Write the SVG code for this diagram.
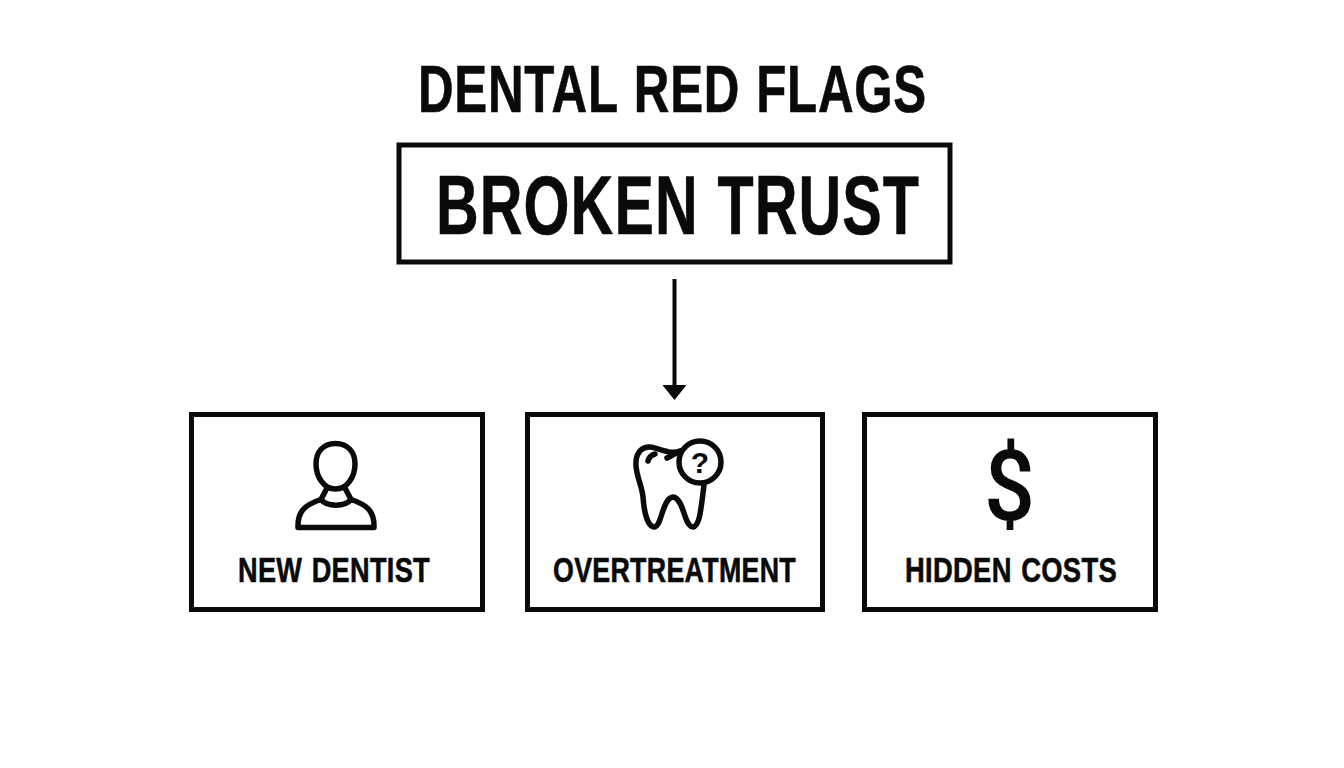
<svg xmlns="http://www.w3.org/2000/svg" width="1344" height="768" viewBox="0 0 1344 768">
<style>
.box{fill:#fff;stroke:#0a0a0a;stroke-width:5}
.t{font-family:"Liberation Sans",Arial,sans-serif;font-weight:700;fill:#0a0a0a;stroke:#0a0a0a;stroke-width:.6px;text-anchor:start}
.lbl{font-size:35px;letter-spacing:.4px;word-spacing:2px}
.ic{fill:none;stroke:#0a0a0a;stroke-width:5.500;stroke-linecap:round;stroke-linejoin:round}
</style>
<defs><marker id="arr" markerUnits="userSpaceOnUse" markerWidth="16" markerHeight="24" refX="3" refY="12" orient="auto"><path d="M0,0L15,12L0,24Z" fill="#0a0a0a"/></marker></defs>
<rect width="1344" height="768" fill="#fff"/>
<g id="title"><text class="t" x="418" y="112" font-size="66" letter-spacing="1" word-spacing="2" textLength="509" lengthAdjust="spacingAndGlyphs">DENTAL RED FLAGS</text></g>
<g id="broken-trust"><rect class="box" x="399" y="145" width="551" height="117"/><text class="t" x="436" y="234" font-size="84" letter-spacing="1.500" word-spacing="2" textLength="484" lengthAdjust="spacingAndGlyphs">BROKEN TRUST</text></g>
<g id="connectors"><line x1="674.500" y1="279" x2="674.500" y2="388" stroke="#0a0a0a" stroke-width="4" marker-end="url(#arr)"/></g>
<g id="new-dentist"><rect class="box" x="191.500" y="414.500" width="291" height="195"/>
<path class="ic" d="M335.500,443.500C323,443.500 316,452 316,464C316,477 324,489 335.500,489C347,489 355,477 355,464C355,452 348,443.500 335.500,443.500Z"/>
<path class="ic" d="M298,527.500L374,527.500C374.500,512 368,505 351,499.500C345,507 327,507 321,499.500C304,505 297.500,512 298,527.500Z"/>
<path class="ic" d="M327,488L321,499.500M345,488L351,499.500"/>
<text class="t lbl" x="238" y="582" textLength="192" lengthAdjust="spacingAndGlyphs">NEW DENTIST</text></g>
<g id="overtreatment"><rect class="box" x="527.500" y="414.500" width="295" height="195"/>
<path class="ic" d="M681,451C672,454 664,451 655,448C643,444 635,452 636,466C637,478 642,486 643,497C644,511 647,526 654,527C662,527 662,498 673,497C684,498 684,527 693,527C700,526 701,508 704,485"/>
<path class="ic" d="M648,461C649,457 651,455 655,454M667,458L680,451"/>
<circle class="ic" cx="700" cy="462" r="21"/>
<text x="700" y="473" font-family="Liberation Sans,sans-serif" font-weight="700" font-size="30" text-anchor="middle" fill="#0a0a0a">?</text>
<text class="t lbl" x="553" y="582" textLength="243" lengthAdjust="spacingAndGlyphs">OVERTREATMENT</text></g>
<g id="hidden-costs"><rect class="box" x="864.500" y="414.500" width="291" height="195"/>
<text x="1009.500" y="520" font-family="Roboto,sans-serif" font-weight="500" font-size="99" text-anchor="middle" textLength="51" lengthAdjust="spacingAndGlyphs" fill="#0a0a0a">$</text>
<text class="t lbl" x="905" y="582" textLength="212" lengthAdjust="spacingAndGlyphs">HIDDEN COSTS</text></g>
</svg>
